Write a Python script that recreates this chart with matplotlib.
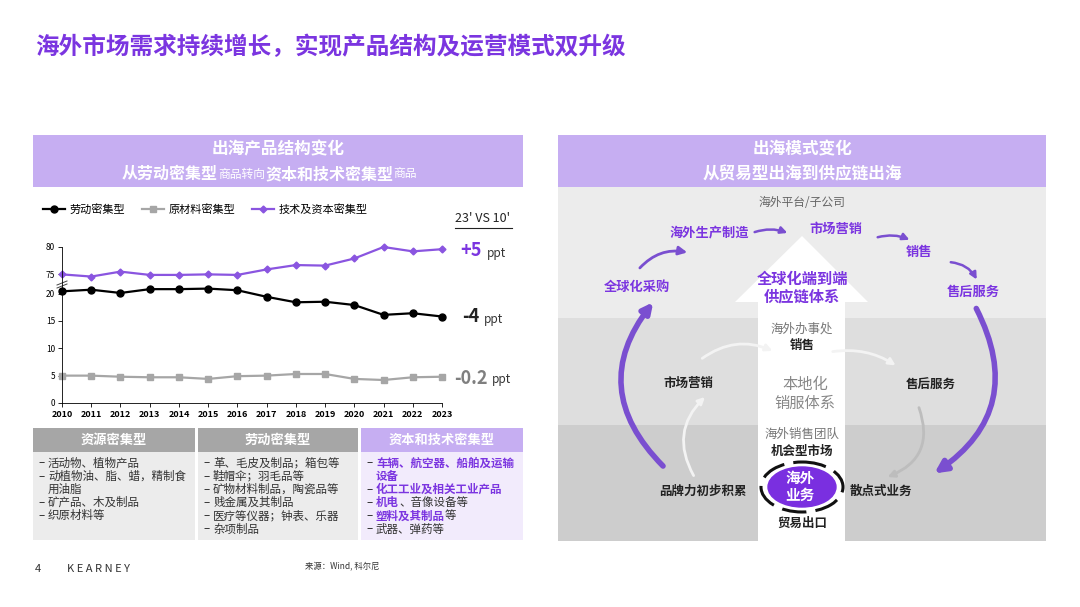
import matplotlib
matplotlib.use("Agg")
import matplotlib.pyplot as plt
from matplotlib.patches import Rectangle, Polygon, FancyArrowPatch, Ellipse

plt.rcParams["font.family"] = ["Noto Sans CJK SC", "DejaVu Sans"]

years = list(range(2010, 2024))
labor = [20.4, 20.7, 20.1, 20.8, 20.8, 20.9, 20.6, 19.4, 18.4, 18.5, 17.9, 16.1, 16.4, 15.8]
raw = [5.0, 5.0, 4.8, 4.7, 4.7, 4.4, 4.9, 5.0, 5.3, 5.3, 4.4, 4.2, 4.7, 4.8]
tech = [75.0, 74.6, 75.5, 74.9, 74.9, 75.0, 74.9, 75.9, 76.7, 76.6, 77.9, 80.0, 79.2, 79.6]
series_names = ["劳动密集型", "原材料密集型", "技术及资本密集型"]
lower_ticks = [0, 5, 10, 15, 20]
upper_ticks = [75, 80]
BREAK = 23.5  # plotted position of 75 on broken axis

PUR = "#7b35e0"
PUR_L = "#c6aef2"
W, H = 1080, 607
fig = plt.figure(figsize=(W / 100, H / 100), dpi=100)
bg = fig.add_axes([0, 0, 1, 1])
bg.set_xlim(0, W); bg.set_ylim(H, 0); bg.axis("off")

def rect(x0, y0, x1, y1, c, z=0):
    bg.add_patch(Rectangle((x0, y0), x1 - x0, y1 - y0, color=c, zorder=z, lw=0))

def t(x, y, s, **kw):
    kw.setdefault("ha", "center"); kw.setdefault("va", "center")
    return bg.text(x, y, s, **kw)

def chain(x, y, parts):
    prev = None
    for s, kw in parts:
        if prev is None:
            prev = t(x, y, s, ha="left", **kw)
        else:
            prev = bg.annotate(s, xy=(1, 0.5), xycoords=prev, ha="left", va="center", **kw)

# Title & footer
t(35, 47, "海外市场需求持续增长，实现产品结构及运营模式双升级", ha="left", fontsize=17, color=PUR, fontweight="bold")
t(35, 569, "4", ha="left", fontsize=8, color="#333")
t(67, 569, "K E A R N E Y", ha="left", fontsize=8, color="#333")
t(305, 567, "来源：Wind, 科尔尼", ha="left", fontsize=6, color="#333")

# Left panel
rect(33, 135, 523, 187, PUR_L)
t(278, 149, "出海产品结构变化", fontsize=12, color="white", fontweight="bold")
big = dict(fontsize=11.5, color="white", fontweight="bold")
small = dict(fontsize=8.5, color="white")
chain(122, 174, [("从劳动密集型", big), ("商品转向", small), ("资本和技术密集型", big), ("商品", small)])

cols = [(33, 195), (198, 358), (361, 523)]
heads = ["资源密集型", "劳动密集型", "资本和技术密集型"]
hc = ["#a6a6a6", "#a6a6a6", PUR_L]
bc = ["#ececec", "#ececec", "#f2ebfc"]
bodies = [
    [(1, [("活动物、植物产品", 0)]), (1, [("动植物油、脂、蜡，精制食", 0)]), (0, [("用油脂", 0)]),
     (1, [("矿产品、木及制品", 0)]), (1, [("织原材料等", 0)])],
    [(1, [("革、毛皮及制品；箱包等", 0)]), (1, [("鞋帽伞；羽毛品等", 0)]), (1, [("矿物材料制品，陶瓷品等", 0)]),
     (1, [("贱金属及其制品", 0)]), (1, [("医疗等仪器；钟表、乐器", 0)]), (1, [("杂项制品", 0)])],
    [(1, [("车辆、航空器、船舶及运输", 1)]), (0, [("设备", 1)]), (1, [("化工工业及相关工业产品", 1)]),
     (1, [("机电", 1), ("、音像设备等", 0)]), (1, [("塑料及其制品", 1), ("等", 0)]), (1, [("武器、弹药等", 0)])],
]
FS = 8.3
for (x0, x1), h, c1, c2, body in zip(cols, heads, hc, bc, bodies):
    rect(x0, 428, x1, 452, c1)
    rect(x0, 452, x1, 540, c2)
    t((x0 + x1) / 2, 440, h, fontsize=9.5, color="white", fontweight="bold")
    for i, (dash, parts) in enumerate(body):
        y = 463 + i * 13.2
        if dash:
            t(x0 + 5, y, "–", ha="left", fontsize=FS, color="#333")
        chain(x0 + 15, y, [(s, dict(fontsize=FS, color=PUR if p else "#333",
                                     fontweight="bold" if p else "normal")) for s, p in parts])

# Chart annotations
t(483, 219, "23' VS 10'", ha="center", fontsize=9, color="#222")
bg.plot([455, 512], [228, 228], color="#222", lw=0.8)
t(460, 251, "+5", ha="left", fontsize=13, color=PUR, fontweight="bold")
t(487, 253, "ppt", ha="left", fontsize=8.5, color="#333")
t(462, 317, "-4", ha="left", fontsize=13, color="#222", fontweight="bold")
t(484, 319, "ppt", ha="left", fontsize=8.5, color="#333")
t(454, 378, "-0.2", ha="left", fontsize=13, color="#7f7f7f", fontweight="bold")
t(492, 380, "ppt", ha="left", fontsize=8.5, color="#333")

# Right panel
rect(558, 135, 1046, 187, PUR_L)
t(802, 149, "出海模式变化", fontsize=12, color="white", fontweight="bold")
t(802, 174, "从贸易型出海到供应链出海", fontsize=12, color="white", fontweight="bold")
rect(558, 187, 1046, 318, "#ececec")
rect(558, 318, 1046, 425, "#dedede")
rect(558, 425, 1046, 541, "#cdcdcd")
bg.add_patch(Polygon([[758, 541], [758, 302], [735, 302], [802, 236], [868, 302], [845, 302], [845, 541]],
                     closed=True, color="white", zorder=1, lw=0))

t(802, 202, "海外平台/子公司", fontsize=8.5, color="#666")
pt = dict(fontsize=9.5, color=PUR, fontweight="bold", zorder=3)
t(709, 232, "海外生产制造", **pt)
t(836, 229, "市场营销", **pt)
t(919, 252, "销售", **pt)
t(973, 292, "售后服务", **pt)
t(637, 287, "全球化采购", **pt)
t(802, 279, "全球化端到端", fontsize=11, color=PUR, fontweight="bold", zorder=3)
t(802, 296, "供应链体系", fontsize=11, color=PUR, fontweight="bold", zorder=3)
t(802, 329, "海外办事处", fontsize=9, color="#777", zorder=3)
t(802, 346, "销售", fontsize=9, color="#222", fontweight="bold", zorder=3)
t(805, 385, "本地化", fontsize=11, color="#888", zorder=3)
t(805, 403, "销服体系", fontsize=11, color="#888", zorder=3)
t(802, 434, "海外销售团队", fontsize=9, color="#777", zorder=3)
t(802, 451, "机会型市场", fontsize=9, color="#222", fontweight="bold", zorder=3)
t(688, 383, "市场营销", fontsize=9, color="#222", fontweight="bold", zorder=3)
t(931, 385, "售后服务", fontsize=9, color="#222", fontweight="bold", zorder=3)
t(703, 491, "品牌力初步积累", fontsize=9, color="#222", fontweight="bold", zorder=3)
t(881, 491, "散点式业务", fontsize=9, color="#222", fontweight="bold", zorder=3)
t(802, 523, "贸易出口", fontsize=9, color="#222", fontweight="bold", zorder=3)
bg.add_patch(Ellipse((802, 487), 68, 40, color="#7a2fe0", zorder=3))
bg.add_patch(Ellipse((802, 487), 82, 50, fill=False, ec="#111", lw=2.2, zorder=3, ls=(0, (8, 3))))
t(800, 478, "海外", fontsize=10.5, color="white", fontweight="bold", zorder=4)
t(800, 495, "业务", fontsize=10.5, color="white", fontweight="bold", zorder=4)

def arr(p0, p1, rad, c, lw, ms):
    bg.add_patch(FancyArrowPatch(p0, p1, connectionstyle=f"arc3,rad={rad}", arrowstyle=f"-|>,head_length={ms},head_width={ms*0.5}",
                                 color=c, lw=lw, zorder=2))
arr((665, 468), (655, 300), -0.45, "#7a4fd0", 4, 6)
arr((638, 270), (690, 253), -0.3, "#7a4fd0", 2, 5)
arr((752, 233), (790, 234), -0.2, "#7a4fd0", 1.8, 4)
arr((875, 238), (912, 241), -0.2, "#7a4fd0", 1.8, 4)
arr((948, 262), (978, 282), -0.3, "#7a4fd0", 1.8, 4)
arr((975, 306), (932, 475), -0.45, "#7a4fd0", 4, 7)
arr((695, 478), (707, 395), -0.4, "#f3f3f3", 2, 4)
arr((700, 360), (775, 352), -0.3, "#f3f3f3", 2, 4)
arr((830, 352), (898, 367), -0.2, "#f3f3f3", 2, 4)
arr((918, 405), (885, 478), -0.5, "#bdbdbd", 2, 4)

# line chart
ax = fig.add_axes([62 / W, 1 - 403 / H, 380 / W, 156 / H])
ax.patch.set_alpha(0)
ax.plot(years, labor, color="black", marker="o", ms=5, lw=1.6, label=series_names[0], clip_on=False)
ax.plot(years, raw, color="#a6a6a6", marker="s", ms=5, lw=1.6, label=series_names[1], clip_on=False)
ax.plot(years, [v - upper_ticks[0] + BREAK for v in tech], color="#8a55e0", marker="D", ms=3.5, lw=1.6,
        label=series_names[2], clip_on=False)
ax.set_xlim(2010, 2023)
ax.set_ylim(0, BREAK + upper_ticks[1] - upper_ticks[0])
ax.set_xticks(years)
ax.set_xticklabels([str(y) for y in years], fontsize=6.5, fontweight="bold")
ax.set_yticks(lower_ticks + [BREAK + u - upper_ticks[0] for u in upper_ticks])
ax.set_yticklabels([str(v) for v in lower_ticks + upper_ticks], fontsize=6)
for s in ["top", "right"]:
    ax.spines[s].set_visible(False)
ax.tick_params(length=3, width=0.6, pad=2)
ax.spines["left"].set_linewidth(0.6); ax.spines["bottom"].set_linewidth(0.6)
bg.plot([57, 67], [285, 281], color="#444", lw=0.7, zorder=5)
bg.plot([57, 67], [288, 284], color="#444", lw=0.7, zorder=5)
ax.legend(loc="center left", bbox_to_anchor=(33 / W, 1 - 209 / H), bbox_transform=fig.transFigure,
          ncol=3, frameon=False, fontsize=8, handlelength=2, columnspacing=1.5, handletextpad=0.4)

fig.savefig("out.png", dpi=100)
